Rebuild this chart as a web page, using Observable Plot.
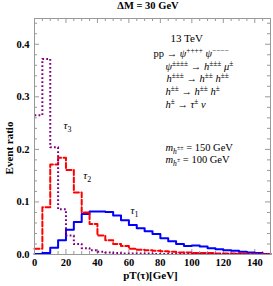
<!DOCTYPE html>
<html><head><meta charset="utf-8">
<script src="https://cdn.jsdelivr.net/npm/d3@7"></script>
<script src="https://cdn.jsdelivr.net/npm/@observablehq/plot@0.6"></script>
<style>
body{margin:0;background:#fff;width:273px;height:286px;overflow:hidden}
#title{height:14px;line-height:15px;font:bold 10.5px "Liberation Serif",serif;text-align:center;padding-left:23px;box-sizing:border-box;width:273px}
svg{display:block}
</style></head><body>
<div id="title">ΔM = 30 GeV</div>
<div id="chart"></div>
<script>
// bin edges (GeV)
const binEdges = [0,5,10,15,20,25,30,35,40,45,50,55,60,65,70,75,80,85,90,95,100,105,110,115,120,125,130,135,140,145,150];
// event ratio per 5 GeV bin
const tau1 = [0.001,0.003,0.013,0.027,0.047,0.062,0.077,0.082,0.082,0.081,0.074,0.065,0.056,0.050,0.044,0.039,0.031,0.025,0.020,0.016,0.017,0.015,0.012,0.010,0.008,0.007,0.005,0.004,0.003,0.001];
const tau2 = [0.011,0.090,0.171,0.184,0.161,0.118,0.080,0.058,0.036,0.027,0.020,0.016,0.011,0.009,0.008,0.007,0.006,0.005,0.004,0.004,0.003,0.003,0.003,0.002,0.002,0.002,0.002,0.001,0.001,0.001];
const tau3 = [0.265,0.372,0.204,0.086,0.036,0.020,0.012,0.008,0.005,0.004,0.003,0.002,0.002,0.002,0.002,0.001,0.001,0.001,0.001,0.001,0.001,0.001,0.001,0.001,0.001,0.001,0.001,0.001,0.001,0.001];
const seriesColors = ["#0000ff","#ff0000","#800080"];
const xMajor = [0,20,40,60,80,100,120,140];
const xMinor = [5,10,15,25,30,35,45,50,55,65,70,75,85,90,95,105,110,115,125,130,135,145];
const yMajor = [0.0,0.1,0.2,0.3,0.4];
const yMinor = [0.02,0.04,0.06,0.08,0.12,0.14,0.16,0.18,0.22,0.24,0.26,0.28,0.32,0.34,0.36,0.38,0.42,0.44];
const xLabel = "pT(τ)[GeV]";
const yLabel = "Event ratio";
const infoLines = ["13 TeV","pp → ψ^{++++} ψ^{−−−−}","ψ^{±±±±} → h^{±±±} μ^{±}","h^{±±±} → h^{±±} h^{±±}","h^{±±} → h^{±±} h^{±}","h^{±} → τ^{±} ν"];
const massLines = ["m_{h}~{±±} = 150 GeV","m_{h}~{±} = 100 GeV"];
// curve label anchors (data units)
const curveLabels = [{t:"τ_{1}",x:61,y:0.083},{t:"τ_{2}",x:31,y:0.150},{t:"τ_{3}",x:18.5,y:0.245}];

function steps(vals, name){
  const r = vals.map((v,i)=>({x:binEdges[i], y:v, s:name}));
  r.push({x:binEdges[vals.length], y:vals[vals.length-1], s:name});
  return r;
}
const d1 = steps(tau1,"1"), d2 = steps(tau2,"2"), d3s = steps(tau3,"3");

const W = 273, H = 272, mT = 4, mB = 32, mL = 34, mR = 3;
const ph = H - mT - mB, pw = W - mL - mR;
const gray = "#999";
const font = "Liberation Serif";

const plot = Plot.plot({
  width: W, height: H,
  marginTop: mT, marginBottom: mB, marginLeft: mL, marginRight: mR,
  x: {domain: [0,150]},
  y: {domain: [0,0.449]},
  style: {fontFamily: font, fontSize: "10px", color: "#000", background: "#fff"},
  marks: [
    Plot.tickX(xMajor, {x: d=>d, insetTop: ph-5, stroke: gray}),
    Plot.tickX(xMinor, {x: d=>d, insetTop: ph-3, stroke: gray}),
    Plot.tickX(xMajor, {x: d=>d, insetBottom: ph-5, stroke: gray}),
    Plot.tickX(xMinor, {x: d=>d, insetBottom: ph-3, stroke: gray}),
    Plot.tickY(yMajor, {y: d=>d, insetRight: pw-5, stroke: gray}),
    Plot.tickY(yMinor, {y: d=>d, insetRight: pw-3, stroke: gray}),
    Plot.tickY(yMajor, {y: d=>d, insetLeft: pw-5, stroke: gray}),
    Plot.tickY(yMinor, {y: d=>d, insetLeft: pw-3, stroke: gray}),
    Plot.axisX({ticks: xMajor, tickSize: 0, tickPadding: 4, label: null, fontWeight: "bold", fontSize: 10.5}),
    Plot.axisY({ticks: yMajor, tickSize: 0, tickPadding: 5, label: null, tickFormat: d3.format(".1f"), fontWeight: "bold", fontSize: 10.5}),
    Plot.line(d1, {x:"x", y:"y", curve:"step-after", stroke: seriesColors[0], strokeWidth: 2}),
    Plot.line(d2, {x:"x", y:"y", curve:"step-after", stroke: seriesColors[1], strokeWidth: 2, strokeDasharray: "5,2.5"}),
    Plot.line(d3s, {x:"x", y:"y", curve:"step-after", stroke: seriesColors[2], strokeWidth: 2, strokeDasharray: "1.8,2.2", strokeLinecap: "butt"}),
    Plot.frame({stroke: gray}),
    Plot.text([xLabel], {text: d=>d, frameAnchor: "bottom", dy: 24, dx: -2, fontWeight: "bold", fontSize: 11}),
    Plot.text([yLabel], {text: d=>d, frameAnchor: "left", fontWeight: "bold", fontSize: 11, className: "ylab"}),
    Plot.text(curveLabels, {x:"x", y:"y", text:"t", className: "rich", fontSize: 11, textAnchor: "start"}),
    Plot.text(infoLines.slice(0,1), {text: d=>d, frameAnchor: "top-left", dx: 136, dy: 16, fontSize: 11, textAnchor: "start", className: "rich"}),
    Plot.text(infoLines.slice(1), {text: d=>d, frameAnchor: "top-left", fontSize: 10.5, textAnchor: "start", className: "rich info"}),
    Plot.text(massLines, {text: d=>d, frameAnchor: "top-left", fontSize: 10.5, textAnchor: "start", className: "rich mass"})
  ]
});
document.getElementById("chart").appendChild(plot);

// y-axis title: rotated, centred beside the frame
d3.select(plot).select("g.ylab").attr("transform", null);
d3.select(plot).selectAll("g.ylab text").attr("text-anchor", "middle").attr("transform", `translate(9,${mT + ph/2 + 12}) rotate(-90)`);

// position the info lines (screen offsets within the frame)
const infoX = [119,131,132,131,131];
const infoY = [31,44,56,69,82];
d3.select(plot).selectAll("g.info text").attr("transform", (d,i)=>`translate(${mL+infoX[i]},${mT+infoY[i]})`);
const massY = [125,137];
d3.select(plot).selectAll("g.mass text").attr("transform", (d,i)=>`translate(${mL+131},${mT+massY[i]})`);

// rich text: ^{} superscript, _{} subscript, ~{} small superscript on a subscript
const italic = /([hψμτνm]+)/;
d3.select(plot).selectAll("g.rich text").each(function(){
  const el = d3.select(this);
  const base = parseFloat(getComputedStyle(this).fontSize) || 10;
  const s = this.textContent;
  el.text(null);
  let cur = 0;
  for (const part of s.split(/(\^\{[^}]*\}|_\{[^}]*\}|~\{[^}]*\})/)) {
    if (!part) continue;
    let off = 0, scale = 1, str = part;
    if (part[0] === "^") { off = -base*0.38; scale = 0.7; str = part.slice(2,-1); }
    else if (part[0] === "_") { off = base*0.28; scale = 0.72; str = part.slice(2,-1); }
    else if (part[0] === "~") { off = -base*0.05; scale = 0.58; str = part.slice(2,-1); }
    let first = true;
    for (const chunk of str.split(italic)) {
      if (!chunk) continue;
      const ts = el.append("tspan").text(chunk).attr("font-size", (base*scale).toFixed(2));
      if (/^[hψμτνm]+$/.test(chunk)) ts.attr("font-style", "italic");
      if (first) { ts.attr("dy", (off - cur).toFixed(2)); cur = off; first = false; }
    }
  }
});
</script>
</body></html>
